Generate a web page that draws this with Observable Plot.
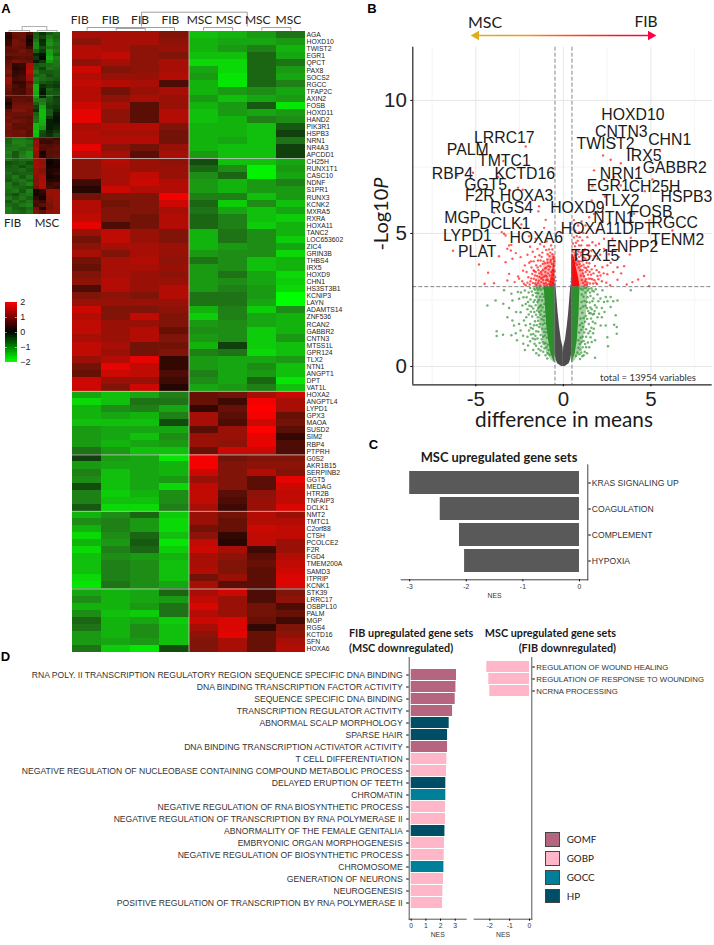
<!DOCTYPE html>
<html><head><meta charset="utf-8">
<script src="https://cdn.jsdelivr.net/npm/d3@7"></script>
<script src="https://cdn.jsdelivr.net/npm/@observablehq/plot@0.6"></script>
<style>
html,body{margin:0;padding:0;background:#fff}
#page{position:relative;width:714px;height:945px;overflow:hidden;font-family:"Liberation Sans",sans-serif}
.t{position:absolute;white-space:nowrap;line-height:1;color:#111}
</style></head><body>
<svg width="0" height="0" style="position:absolute"><defs>
<linearGradient id="arrowGrad" gradientUnits="userSpaceOnUse" x1="13" y1="0" x2="193" y2="0">
<stop offset="0" stop-color="#E0AC1E"/><stop offset=".3" stop-color="#EE9A15"/><stop offset=".55" stop-color="#FF4A10"/><stop offset=".8" stop-color="#FF1020"/><stop offset="1" stop-color="#FF0040"/>
</linearGradient></defs></svg>
<div id="page"></div>
<script>
// ---------- Panel A data ----------
const genes=["AGA","HOXD10","TWIST2","EGR1","QPCT","PAX8","SOCS2","RGCC","TFAP2C","AXIN2","FOSB","HOXD11","HAND2","PIK3R1","HSPB3","NRN1","NR4A3","APCDD1","CH25H","RUNX1T1","CASC10","NDNF","S1PR1","RUNX3","KCNK2","MXRA5","RXRA","HOXA11","TANC2","LOC653602","ZIC4","GRIN3B","THBS4","IRX5","HOXD9","CHN1","HS3ST3B1","KCNIP3","LAYN","ADAMTS14","ZNF536","RCAN2","GABBR2","CNTN3","MTSS1L","GPR124","TLX2","NTN1","ANGPT1","DPT","VAT1L","HOXA2","ANGPTL4","LYPD1","GPX3","MAOA","SUSD2","SIM2","RBP4","PTPRH","G0S2","AKR1B15","SERPINB2","GGT5","MEDAG","HTR2B","TNFAIP3","DCLK1","NMT2","TMTC1","C2orf88","CTSH","PCOLCE2","F2R","FGD4","TMEM200A","SAMD3","ITPRIP","KCNK1","STK39","LRRC17","OSBPL10","PALM","MGP","RGS4","KCTD16","SFN","HOXA6"];
const mainHeat=[
[1.3,1.3,1.3,1.0,-1.5,-1.4,-1.2,-0.9],[1.1,1.3,1.3,1.1,-1.4,-1.3,-1.3,-1.2],[1.4,1.3,1.1,1.2,-1.4,-1.2,-1.0,-1.4],[1.4,1.5,1.1,1.0,-1.5,-1.5,-0.8,-1.3],[1.1,1.3,1.1,1.3,-1.7,-1.7,-0.8,-0.9],[1.6,1.0,1.1,1.3,-1.3,-1.7,-0.8,-1.2],[1.4,1.2,1.2,1.4,-1.2,-1.8,-0.8,-1.3],[1.5,1.4,1.3,0.6,-1.4,-1.8,-0.8,-1.0],[1.4,0.9,1.2,1.3,-1.4,-1.2,-1.1,-1.3],[1.4,1.1,1.3,1.2,-1.2,-1.5,-1.3,-1.2],[1.6,1.3,0.7,1.2,-1.4,-1.2,-0.7,-1.8],[1.8,1.1,0.7,1.4,-1.5,-1.2,-1.3,-1.2],[1.8,1.1,0.7,1.4,-1.5,-1.4,-1.0,-1.1],[1.3,1.4,1.4,1.0,-1.4,-1.4,-1.5,-0.7],[1.4,1.3,1.3,0.9,-1.4,-1.4,-1.5,-0.5],[1.4,1.4,1.4,0.9,-1.4,-1.3,-1.5,-0.9],[1.8,1.1,0.9,1.2,-1.4,-1.5,-1.5,-0.5],[1.5,1.3,0.7,1.3,-1.2,-1.5,-1.5,-0.5],
[1.1,1.4,1.2,1.1,-0.6,-1.5,-1.5,-1.3],[1.1,1.3,1.2,1.2,-0.8,-1.1,-1.9,-1.2],[1.1,1.3,1.5,1.2,-1.1,-0.8,-1.9,-1.3],[0.5,1.3,1.6,1.4,-1.2,-1.4,-1.2,-1.0],[0.3,1.6,1.4,1.4,-1.2,-1.4,-1.2,-1.2],[0.9,1.0,1.0,1.9,-1.0,-1.0,-1.5,-1.2],[1.4,0.9,1.0,1.6,-0.8,-1.6,-1.1,-1.5],[1.4,1.0,1.0,1.3,-0.9,-1.3,-1.5,-1.3],[1.5,1.0,0.9,1.4,-0.8,-1.0,-1.5,-1.6],[1.8,0.6,0.9,1.4,-0.8,-1.0,-1.6,-1.4],[1.2,1.5,1.2,1.0,-1.4,-0.9,-1.1,-1.4],[0.9,1.5,1.2,1.0,-1.4,-0.9,-1.1,-1.6],[1.1,1.3,1.3,1.2,-1.4,-1.2,-1.1,-1.3],[1.3,1.0,1.3,1.2,-1.2,-1.1,-1.1,-1.7],[0.9,1.3,1.4,1.1,-0.9,-1.1,-1.5,-1.4],[0.8,1.3,1.3,1.2,-1.2,-1.1,-1.5,-1.4],[1.0,1.3,1.2,1.1,-1.2,-0.9,-1.3,-1.7],[1.1,1.4,1.2,1.2,-1.2,-1.1,-1.3,-1.6],[0.6,1.4,1.2,1.4,-1.2,-1.0,-1.2,-1.7],[1.0,1.1,1.0,1.4,-0.9,-0.9,-1.2,-2.0],[1.2,1.2,1.2,1.2,-0.9,-0.9,-1.3,-2.0],[1.6,1.0,1.0,1.1,-1.4,-1.0,-1.6,-1.1],[1.4,1.0,1.5,1.0,-1.6,-1.0,-1.3,-1.4],[1.5,1.2,1.2,1.0,-1.2,-1.1,-1.3,-1.4],[1.5,1.2,1.4,0.8,-1.1,-1.1,-1.6,-1.4],[1.3,1.2,1.4,1.0,-1.2,-1.1,-1.6,-1.2],[1.5,1.3,0.9,0.9,-1.4,-0.5,-1.6,-1.5],[1.5,1.2,0.9,1.0,-1.0,-0.9,-1.7,-1.5],[1.2,1.4,1.8,0.4,-1.2,-1.3,-1.3,-1.2],[0.9,1.8,1.5,0.4,-1.2,-1.3,-1.1,-1.5],[0.8,1.6,1.5,0.6,-1.0,-1.3,-1.2,-1.5],[1.6,1.2,1.2,0.5,-1.1,-1.3,-0.8,-1.8],[1.6,1.0,1.6,0.3,-1.3,-1.2,-1.0,-1.5],
[-1.3,-1.5,-1.3,-1.0,0.8,0.9,1.3,1.6],[-1.7,-1.5,-0.9,-0.9,0.8,0.5,1.9,1.3],[-1.4,-1.1,-1.0,-1.3,0.4,0.8,2.0,1.3],[-1.4,-1.3,-1.4,-1.0,1.3,0.7,1.9,0.8],[-1.5,-1.5,-1.5,-0.6,1.3,0.6,1.6,0.9],[-1.2,-1.3,-1.3,-1.3,0.7,1.2,2.0,0.7],[-1.2,-1.3,-1.5,-1.1,1.2,1.2,1.8,0.4],[-1.2,-1.4,-1.3,-1.2,1.2,1.1,1.8,0.6],[-0.9,-1.2,-1.5,-1.5,0.8,1.6,1.6,0.6],
[-0.5,-1.2,-1.3,-1.8,1.9,0.9,1.0,1.0],[-1.2,-1.3,-1.3,-1.4,1.9,1.0,1.1,1.1],[-1.0,-1.5,-1.3,-1.4,1.6,1.0,1.4,1.0],[-1.1,-1.5,-1.3,-1.2,1.2,1.0,0.7,1.8],[-0.6,-1.5,-1.3,-1.7,1.5,1.0,0.7,1.6],[-1.0,-1.6,-1.4,-1.1,1.5,0.7,1.1,1.5],[-1.0,-1.5,-1.5,-1.1,1.5,0.6,1.2,1.5],[-0.7,-1.7,-1.7,-1.0,1.3,0.5,1.2,1.7],
[-1.4,-1.1,-0.8,-1.6,1.2,0.9,1.4,1.2],[-1.1,-1.0,-1.2,-1.7,1.2,0.8,1.4,1.4],[-1.4,-1.0,-1.2,-1.7,0.9,0.8,1.6,1.5],[-1.7,-1.1,-0.8,-1.5,1.1,0.4,1.5,1.5],[-1.4,-1.2,-0.7,-1.8,1.5,0.3,1.5,1.2],[-1.7,-1.0,-0.8,-1.6,1.6,1.3,0.5,1.2],[-1.5,-1.1,-1.2,-1.4,1.3,1.1,0.7,1.4],[-1.5,-1.0,-1.1,-1.5,1.3,1.0,0.8,1.5],[-1.5,-1.0,-1.1,-1.5,1.4,1.0,0.7,1.6],[-1.7,-1.0,-1.1,-1.5,0.9,1.2,0.7,1.7],[-1.8,-0.9,-1.1,-1.3,1.3,0.7,0.7,1.7],
[-1.3,-1.4,-1.3,-0.8,1.3,1.6,0.6,1.0],[-1.1,-1.4,-1.3,-1.2,1.5,1.2,0.6,1.1],[-1.4,-1.4,-1.2,-0.9,1.7,1.2,0.9,0.6],[-1.1,-1.5,-1.6,-0.9,1.4,1.2,0.9,0.8],[-0.8,-1.4,-1.3,-1.6,1.6,1.7,0.8,0.5],[-0.9,-1.4,-1.1,-1.5,1.3,1.7,0.4,1.0],[-1.2,-1.4,-1.1,-1.5,1.1,1.8,0.8,1.1],[-1.2,-1.3,-1.2,-1.5,1.0,1.3,0.8,1.3],[-0.9,-1.6,-1.8,-0.6,1.0,1.3,0.8,1.4]];
const mainBreaks=[18,51,60,68,79];
const colNames=["FIB","FIB","FIB","FIB","MSC","MSC","MSC","MSC"];
const colNamePos=[.25,1.31,2.32,3.36,4.36,5.36,6.36,7.41];
const miniHeat=[
[.5,1.1,1.1,.7,-.9,-.5,-.9,-1.1],[.4,1.0,1.1,.4,-1.0,-.7,-1.2,-1.0],[.5,1.2,1.0,.2,-1.2,-.4,-1.4,-1.1],[.6,1.2,1.1,.3,-1.4,-.5,-1.5,-1.2],[1.0,1.1,1.0,.6,-1.4,-.8,-1.2,-1.1],[.9,1.0,1.2,1.0,-1.0,-.6,-1.6,-1.2],[1.1,1.1,1.1,1.1,-.4,-.2,-1.6,-1.0],[.8,.9,1.0,.9,-.6,-.1,-1.8,-1.3],[1.0,1.2,1.1,1.1,-.3,-.6,-1.5,-1.2],[1.1,.5,.6,1.7,-.9,-1.0,-1.1,-1.2],[1.2,.4,.5,1.8,-1.0,-.7,-1.2,-1.1],[1.3,.5,.6,1.9,-1.2,-.9,-.9,-1.0],[1.1,.6,.7,1.6,-1.0,-1.1,-.8,-1.0],[1.6,.7,.8,1.6,-1.3,-1.1,-1.0,-.9],[1.5,.5,.5,1.0,-1.2,-.9,-.8,-.7],[1.2,.8,.6,1.2,-1.8,-.5,-.7,-.6],[1.1,.7,.7,1.1,-1.8,-.3,-1.0,-.8],[1.0,.8,.7,1.1,-1.7,-.2,-.9,-.9],[.9,.9,.9,1.0,-1.6,-.3,-1.0,-.6],[.6,1.0,1.0,.9,-1.3,-1.2,-.9,-.7],[.3,1.1,1.1,1.1,-1.0,-1.3,-.8,-.7],[.5,1.2,1.2,1.2,-.7,-1.7,-.7,-.6],[1.0,1.3,1.3,1.1,-.5,-1.9,-.9,-.5],[1.1,1.1,1.1,1.1,-1.0,-1.9,-.9,-.3],[1.2,1.0,1.0,.9,-1.1,-1.9,-.6,-.2],[1.1,1.2,1.1,1.0,-1.2,-1.8,-.3,-.2],[1.3,.9,1.0,.9,-1.9,-1.7,-.3,-.3],[1.2,1.0,.9,1.0,-1.9,-1.5,-.3,-.4],[1.1,1.1,1.2,.9,-2.0,-.8,-.4,-.6],[1.2,1.1,1.1,.9,-1.9,-.7,-.5,-.8],
[-1.0,-1.2,-1.2,-1.0,1.2,.7,.8,.6],[-1.0,-1.3,-1.3,-1.2,1.5,.6,.6,.8],[-1.1,-1.2,-1.3,-1.1,1.5,.9,.8,.9],[-1.2,-1.2,-1.1,-1.2,1.7,.8,.9,1.0],[-1.3,-.9,-1.2,-1.5,1.5,.2,.9,.9],[-1.2,-.9,-1.3,-1.5,1.4,.3,.9,1.0],[-1.2,-1.0,-1.1,-1.1,1.6,1.5,.2,.3],[-.8,-.9,-1.0,-.8,1.7,1.4,.1,.3],[-.9,-1.0,-.8,-1.0,1.7,1.5,.2,.2],[-1.0,-1.0,-1.1,-.9,1.5,1.3,.3,.4],[-1.1,-.9,-1.0,-1.0,1.6,1.4,.3,.5],[-1.0,-1.2,-.9,-1.2,1.4,1.7,.2,.3],[-.9,-1.1,-1.2,-1.0,1.3,1.7,.4,.4],[-1.2,-.9,-1.1,-1.3,1.4,1.8,.6,.7],[-1.2,-1.1,-1.0,-.9,1.2,1.7,.7,.6],[-1.1,-1.2,-.9,-1.3,.3,.5,1.5,1.5],[-1.0,-.8,-1.1,-1.2,.2,.4,1.5,1.6],[-1.2,-1.0,-1.2,-1.0,.5,.2,1.4,1.6],[-.9,-1.2,-1.0,-1.2,.8,.6,1.3,1.5],[-1.1,-1.0,-1.2,-1.3,.7,.9,1.2,1.5],[-1.3,-1.0,-.9,-1.1,1.2,.4,1.2,1.4],[-1.2,-1.1,-1.0,-1.2,1.3,1.0,1.4,1.5]];
const miniBreaks=[18,30,36];
// dendrogram merges: [x1, x2, height, height the left/right legs fall to]
const mainDendro=[[.5,3.5,4,1],[1.5,2.5,3,1],[4.5,5.5,4,1],[6.5,7.5,4,1],[2.37,6.0,19.3,5]];
const miniDendro=[[.5,3.5,2,.5],[4.6,7.5,2,.5],[2.4,6.0,6,2]];
const legendLevels=d3.range(-2,2,.1);
// ---------- Panel B data ----------
const redPts=[[-2.15,8.27],[-3.43,7.72],[-3.73,7.12],[-6.06,7.18],[-5.16,7.28],[-2.59,6.72],[-3.05,6.62],[-2.32,6.64],[-4.06,6.24],[-1.39,6.02],[-1.43,5.83],[-3.96,5.78],[-5.52,5.4],[-1.01,5.51],[-1.1,5.21],[-2.4,5.34],[-2.44,5.2],[-3.39,4.99],[-3.52,5.05],[-3.3,4.92],[-1.96,4.89],[-1.58,4.8],[-4.63,4.55],[-6.3,4.35],[-4.82,3.83],[-4.3,3.52],[-4.5,3.11],[-3.96,3.13],[-3.68,4.14],[-3.1,4.55],[-3.0,4.36],[-3.2,4.42],[-2.97,4.57],[-2.72,4.26],[-3.3,3.92],[-2.91,4.05],[-2.44,4.11],[-3.1,3.48],[-3.2,3.23],[-2.59,3.38],[-2.53,3.3],[-2.78,3.17],[-2.25,3.11],
[-1.9,4.5],[-1.75,4.31],[-1.62,4.12],[-1.48,4.42],[-1.33,4.6],[-1.2,4.28],[-1.1,4.51],[-0.95,4.7],[-0.82,4.4],[-0.7,4.55],[-0.62,4.22],[-0.58,4.05],[-2.05,4.2],[-1.95,3.9],[-1.82,3.72],[-1.7,3.95],[-1.55,3.8],[-1.42,3.62],[-1.3,3.98],[-1.18,3.85],[-1.05,3.68],[-0.92,4.02],[-0.85,3.78],[-0.74,3.92],[-2.1,3.55],[-2.0,3.35],[-1.88,3.2],[-1.78,3.48],[-1.68,3.3],[-1.6,3.12],[-1.5,3.4],[-1.4,3.22],[-1.28,3.55],[-1.2,3.34],[-1.12,3.12],[-1.02,3.42],[-0.98,3.24],[-2.3,3.6],[-2.2,3.8],[-2.35,3.2],[-2.15,3.05],[-2.05,3.15],
[-1.92,3.08],[-1.83,3.31],[-1.74,3.14],[-1.66,3.58],[-1.57,3.25],[-1.53,3.05],[-1.47,3.72],[-1.44,3.13],[-1.36,3.36],[-1.33,3.04],[-1.31,3.78],[-1.26,3.17],[-1.23,3.46],[-1.17,3.62],[-1.15,3.25],[-1.08,3.04],[-1.06,3.88],[-1.03,3.55],[-1.0,3.13],[-.97,3.72],[-.95,3.38],[-.93,3.06],[-.9,3.9],[-.88,3.5],[-.86,3.22],[-.84,3.64],[-.81,3.1],[-.8,4.15],[-.78,3.42],[-.76,3.74],[-.74,3.18],[-.72,4.0],[-.7,3.55],[-.68,3.04],[-.66,3.3],[-.65,3.85],[-.63,4.4],[-.62,3.62],[-.6,3.14],[-.58,3.45],[-.57,4.12],[-.55,3.78],[-.54,3.26],[-.52,3.58],[-.51,3.05],[-.5,3.95],[-1.13,3.95],[-1.24,4.12],[-1.37,4.18],[-1.45,3.98],[-.9,4.22],[-.75,4.28],[-1.58,3.55],[-1.7,3.62],[-1.85,3.95],[-.98,4.38],[-1.27,3.3],[-1.1,3.38],[-.92,3.28],[-1.38,3.5],[-1.62,3.42],
[5.52,8.1],[2.27,7.93],[2.7,7.77],[3.28,7.64],[1.75,7.37],[4.32,7.49],[2.93,8.31],[2.9,7.12],[1.66,6.77],[3.28,6.8],[5.09,7.03],[4.65,6.59],[2.38,6.39],[1.62,6.24],[2.04,6.18],[4.04,5.74],[3.85,5.49],[4.9,5.49],[6.23,5.11],[1.47,5.61],[1.75,5.74],[1.94,5.11],[0.93,4.86],[1.08,4.74],[1.37,4.86],[1.66,4.67],[2.04,4.61],[2.32,4.8],[2.8,4.8],[3.85,4.84],[2.9,4.55],[2.32,4.42],[1.85,4.55],[1.47,4.55],[1.18,4.36],[0.9,4.55],[3.79,4.21],[3.18,4.11],[3.47,3.77],[3.09,3.73],[2.51,3.8],[2.23,3.73],[2.04,3.54],[2.51,3.47],[3.09,3.26],[4.61,3.4],[4.27,3.27],[3.94,3.17],[3.62,3.08],[4.9,3.02],[2.67,3.05],
[0.72,4.65],[0.85,4.32],[1.02,4.18],[1.25,4.05],[1.42,4.2],[1.6,4.35],[1.78,4.15],[1.95,4.05],[2.1,4.2],[2.6,4.22],[0.95,3.95],[1.15,3.82],[1.3,3.7],[1.48,3.88],[1.62,3.65],[1.8,3.78],[1.95,3.4],[1.55,3.3],[1.7,3.12],[1.4,3.45],[1.25,3.2],[1.85,3.15],[2.2,3.2],[2.45,3.15],[2.85,3.55],[2.7,3.9],[1.12,3.5],[1.35,3.08],[3.3,3.5],
[.52,4.35],[.55,4.62],[.58,4.1],[.6,4.85],[.62,4.28],[.64,3.98],[.66,4.52],[.68,4.18],[.7,3.9],[.72,4.38],[.75,4.05],[.78,3.82],[.8,4.22],[.82,4.72],[.85,3.95],[.88,3.72],[.9,4.12],[.93,3.85],[.96,3.62],[.98,4.28],[1.0,3.42],[1.03,3.78],[1.05,3.25],[1.08,3.95],[1.1,3.62],[1.13,3.14],[1.16,4.1],[1.18,3.4],[1.2,3.72],[1.22,3.05],[1.27,3.55],[1.3,3.28],[1.33,3.9],[1.36,3.62],[1.38,3.16],[1.42,3.75],[1.45,3.3],[1.5,3.56],[1.52,3.12],[1.58,3.45],[1.65,3.28],[1.72,3.5],[1.78,3.24],[1.9,3.62],[1.92,3.1],[2.0,3.28],[2.12,3.42],[2.3,3.5],[1.02,4.55],[1.24,4.4],[1.08,4.3],[.76,4.9],[1.36,4.55],[1.55,4.15],[.9,5.05],[1.14,5.02],[.68,5.1],[1.26,5.3],[1.04,5.45],[.84,5.3],[.6,5.5]];
const greenPts=[[-3.39,2.86],[-3.87,2.48],[-4.34,2.29],[-2.97,2.73],[-3.43,2.36],[-2.91,2.48],[-2.53,2.54],[-2.34,2.29],[-3.2,1.85],[-2.91,1.73],[-2.82,1.54],[-2.44,2.04],[-2.25,1.73],[-2.53,1.6],[-3.81,1.32],[-3.81,1.14],[-3.45,1.19],[-2.97,1.17],[-2.29,.85],[-2.02,.79],[-2.44,1.35],[-1.96,1.35],[-2.7,2.05],[-2.6,2.8],[-2.2,2.85],[-2.1,2.6],[-2.15,2.35],[-2.05,2.15],[-1.98,1.95],[-2.12,1.85],[-1.9,1.6],[-1.85,1.2],[-1.75,1.05],[-1.9,.95],[-1.72,.62],[-1.55,.5],[-1.4,.42],[-1.3,.6],[-1.65,.85],[-1.6,1.15],[-1.75,1.42],[-1.62,1.7],[-1.78,1.88],[-1.66,2.05],[-1.82,2.25],[-1.7,2.42],[-1.88,2.52],[-1.75,2.68],[-1.9,2.95],[-1.62,2.88],[-1.55,2.62],[-1.58,2.3],[-1.5,2.1],[-1.46,1.85],[-1.52,1.55],[-1.42,1.3],[-1.48,1.05],[-1.36,.88],[-1.25,.75],[-1.15,.55],[-1.02,.42],[-.92,.3],[-1.35,1.6],[-1.3,1.95],[-1.35,2.25],[-1.4,2.5],[-1.45,2.75],
[-1.14,2.94],[-1.2,2.72],[-1.27,2.88],[-1.32,2.62],[-1.36,2.95],[-1.44,2.88],[-1.52,2.96],[-1.58,2.76],[-1.68,2.93],[-1.8,2.82],[-1.98,2.78],[-2.02,2.42],[-1.94,2.28],[-1.86,2.06],[-1.72,2.18],[-1.64,2.5],[-1.48,2.42],[-1.44,2.2],[-1.38,2.05],[-1.28,2.3],[-1.22,2.48],[-1.18,2.22],[-1.12,2.62],[-1.08,2.35],[-1.08,2.05],[-1.14,1.88],[-1.24,1.78],[-1.26,2.1],[-1.18,1.58],[-1.12,1.74],[-1.05,1.9],[-1.06,1.62],[-1.02,1.42],[-1.1,1.3],[-1.2,1.42],[-1.3,1.18],[-1.24,1.02],[-1.16,1.12],[-1.06,1.16],[-.98,1.28],[-.94,1.08],[-1.02,.88],[-1.12,.85],[-1.18,.92],[-.96,.72],[-.88,.82],[-.84,.62],[-.78,.44],[-.9,.5],[-1.08,.68],[-1.56,.78],[-1.42,.66],[-1.62,1.02],[-1.72,1.22],[-1.86,1.45],[-1.55,1.32],[-1.68,1.55],[-1.44,1.72],[-1.56,1.94],[-1.38,1.48],[-2.3,1.15],[-2.15,1.55],[-2.05,1.12],[-2.28,2.6],[-2.42,2.78],[-3.1,2.2],[-2.72,1.25],[-2.65,.98],[-2.2,.62],
[3.85,2.86],[3.09,2.48],[2.85,2.45],[2.42,2.61],[2.23,2.86],[2.7,2.61],[2.32,2.42],[2.52,2.45],[2.7,2.23],[2.99,1.92],[2.04,1.98],[1.75,1.98],[1.95,1.85],[2.13,1.54],[2.42,1.54],[2.9,1.57],[3.05,1.48],[3.05,1.23],[2.55,.76],[2.51,1.1],[1.81,.98],[1.81,.33],[1.85,2.9],[1.95,2.7],[2.0,2.45],[1.8,2.3],[1.72,2.55],[1.65,2.85],[1.55,2.65],[1.62,2.15],[1.5,2.4],[1.48,2.0],[1.58,1.8],[1.45,1.6],[1.6,1.45],[1.42,1.25],[1.55,1.1],[1.4,.9],[1.3,.72],[1.22,.55],[1.35,.5],[1.08,.38],[.95,.28],[1.7,1.25],[1.82,1.62],[1.35,2.2],[1.38,2.6],[1.4,2.85],[1.28,1.9],[1.3,1.4],
[1.0,2.92],[1.05,2.7],[1.1,2.88],[1.15,2.62],[1.2,2.95],[1.26,2.78],[1.31,2.96],[1.34,2.42],[1.46,2.92],[1.52,2.78],[1.6,2.94],[1.74,2.82],[1.66,2.45],[1.54,2.22],[1.42,2.08],[1.26,2.28],[1.2,2.46],[1.12,2.25],[1.04,2.42],[.98,2.18],[1.08,2.02],[1.16,1.82],[1.24,1.68],[1.36,1.78],[1.06,1.62],[.98,1.8],[.94,1.55],[1.02,1.38],[1.12,1.48],[1.2,1.28],[1.3,1.12],[1.1,1.12],[.98,1.08],[.9,1.28],[.86,.98],[.94,.84],[1.04,.92],[1.16,.96],[1.24,.84],[1.1,.72],[.98,.64],[.86,.7],[.8,.52],[.92,.46],[1.02,.52],[1.16,.42],[.72,.4],[1.48,.72],[1.62,.92],[1.52,1.32],[1.68,1.68],[1.78,2.08],[1.9,2.22],[1.68,1.95],[1.56,2.0],[1.74,1.42],[2.2,2.2],[2.12,2.55],[2.2,1.85],[2.35,2.05]];
const blueX=[-.47,-.42,-.45,.42,.46,.44];
const blueY=[3.08,3.22,3.35,3.05,3.3,3.18];
const bandY=[.15,.25,.5,1,1.5,2,2.5,3];
const greenOuterLeft=[-.5,-.58,-.72,-.85,-.95,-1.0,-1.05,-1.1];
const greenOuterRight=[.5,.55,.68,.8,.85,.9,.92,.95];
const greenHazeLeft=[-.55,-.7,-.95,-1.15,-1.3,-1.4,-1.5,-1.55];
const greenHazeRight=[.55,.7,.95,1.15,1.25,1.32,1.38,1.42];
const redBandY=[3,3.3,3.6,3.9,4.2];
const redOuterLeft=[-.8,-.72,-.62,-.55,-.5];
const redOuterRight=[.95,.88,.78,.68,.56];
const redHazeLeft=[-1.7,-1.5,-1.25,-1.0,-.7];
const redHazeRight=[1.45,1.3,1.1,.95,.75];
const vY=[0,.1,.25,.5,.72,1,1.5,2,2.5,3];
const vOuter=[.1,.33,.42,.48,.48,.48,.48,.48,.48,.48];
const vInner=[0,0,0,0,.02,.12,.22,.3,.36,.42];
const geneLabels=[["LRRC17",-3.37,8.59],["PALM",-5.46,8.12],["TMTC1",-3.37,7.71],["KCTD16",-2.21,7.24],["RBP4",-6.34,7.24],["GGT5",-4.44,6.83],["F2R",-4.77,6.41],["HOXA3",-2.10,6.41],["RGS4",-2.96,5.97],["MGP",-5.77,5.59],["DCLK1",-3.34,5.35],["LYPD1",-5.48,4.92],["HOXA6",-1.55,4.82],["PLAT",-4.92,4.32],["HOXD10",3.97,9.44],["CNTN3",3.31,8.83],["CHN1",6.07,8.52],["TWIST2",2.41,8.37],["IRX5",4.6,7.93],["GABBR2",6.36,7.45],["NRN1",3.31,7.24],["EGR1",2.56,6.8],["CH25H",5.21,6.74],["HSPB3",7.03,6.39],["TLX2",3.27,6.22],["HOXD9",.80,5.97],["FOSB",5.0,5.82],["NTN1",2.89,5.59],["RGCC",6.36,5.40],["HOXA11",1.60,5.18],["DPT",4.27,5.17],["TENM2",6.52,4.76],["ENPP2",3.94,4.51],["TBX15",1.81,4.15]];
// ---------- Panel C data ----------
const hallmark=["KRAS SIGNALING UP","COAGULATION","COMPLEMENT","HYPOXIA"];
const hallmarkNES=[-3.0,-2.46,-2.12,-2.03];
// ---------- Panel D data ----------
const fibSets=["RNA POLY. II TRANSCRIPTION REGULATORY REGION SEQUENCE SPECIFIC DNA BINDING","DNA BINDING TRANSCRIPTION FACTOR ACTIVITY","SEQUENCE SPECIFIC DNA BINDING","TRANSCRIPTION REGULATOR ACTIVITY","ABNORMAL SCALP MORPHOLOGY","SPARSE HAIR","DNA BINDING TRANSCRIPTION ACTIVATOR ACTIVITY","T CELL DIFFERENTIATION","NEGATIVE REGULATION OF NUCLEOBASE CONTAINING COMPOUND METABOLIC PROCESS","DELAYED ERUPTION OF TEETH","CHROMATIN","NEGATIVE REGULATION OF RNA BIOSYNTHETIC PROCESS","NEGATIVE REGULATION OF TRANSCRIPTION BY RNA POLYMERASE II","ABNORMALITY OF THE FEMALE GENITALIA","EMBRYONIC ORGAN MORPHOGENESIS","NEGATIVE REGULATION OF BIOSYNTHETIC PROCESS","CHROMOSOME","GENERATION OF NEURONS","NEUROGENESIS","POSITIVE REGULATION OF TRANSCRIPTION BY RNA POLYMERASE II"];
const fibNES=[3.09,3.05,3.0,2.82,2.59,2.48,2.48,2.43,2.41,2.36,2.36,2.34,2.34,2.3,2.27,2.25,2.23,2.2,2.16,2.14];
const fibCat=["GOMF","GOMF","GOMF","GOMF","HP","HP","GOMF","GOBP","GOBP","HP","GOCC","GOBP","GOBP","HP","GOBP","GOBP","GOCC","GOBP","GOBP","GOBP"];
const mscSets=["REGULATION OF WOUND HEALING","REGULATION OF RESPONSE TO WOUNDING","NCRNA PROCESSING"];
const mscNES=[-2.15,-2.05,-2.0];
const mscCat=["GOBP","GOBP","GOBP"];
const catNames=["GOMF","GOBP","GOCC","HP"];
const catColors=["#B5657F","#FFB6C8","#007F99","#004D66"];

const page=document.getElementById("page");
const heatColor={type:"linear",domain:[-2,-1,0,1,2],range:["#00ff00","#208018","#000000","#801408","#ff0000"]};
const miniColor={type:"linear",domain:[-2.6,-1.3,0,1.3,2.6],range:["#00ff00","#208018","#000000","#801408","#ff0000"]};
const sans="Liberation Sans",lato="Lato";
function place(svg,left,top){svg.style.position="absolute";svg.style.left=left+"px";svg.style.top=top+"px";svg.style.margin="0";svg.style.overflow="visible";page.appendChild(svg);return svg}
function txt(s,x,y,css,anchor){const d=document.createElement("div");d.className="t";d.innerHTML=s;d.style.left=x+"px";d.style.top=y+"px";d.style.cssText+=css||"";
 const a={c:"translate(-50%,-50%)",l:"translate(0,-50%)",r:"translate(-100%,-50%)"}[anchor||"c"];d.style.transform=a;page.appendChild(d);return d}
const cells=m=>m.flatMap((row,r)=>row.map((v,c)=>({r,c,v})));
const legs=d=>[{x1:d[0],x2:d[1],y1:d[2],y2:d[2]},{x1:d[0],x2:d[0],y1:d[2],y2:d[3]},{x1:d[1],x2:d[1],y1:d[2],y2:d[3]}];

// mini heatmap
place(Plot.plot({width:55.2,height:182,margin:0,x:{axis:null,domain:[0,8]},y:{axis:null,domain:[miniHeat.length,0]},color:miniColor,style:{background:"transparent"},
 marks:[Plot.rect(cells(miniHeat),{x1:"c",x2:d=>d.c+1,y1:"r",y2:d=>d.r+1,fill:"v",shapeRendering:"crispEdges"}),
 Plot.ruleY(miniBreaks,{stroke:"#ddd",strokeOpacity:.35,strokeWidth:.7})]}),5,31.5);
place(Plot.plot({width:55.2,height:12,margin:0,x:{axis:null,domain:[0,8]},y:{axis:null,domain:[0,12]},style:{background:"transparent"},
 marks:[Plot.link(miniDendro.flatMap(legs),{x1:"x1",x2:"x2",y1:"y1",y2:"y2",stroke:"#777",strokeWidth:.6})]}),5,20);
txt("FIB",12.7,222,`font:11.5px ${lato};color:#222`);txt("MSC",47,222,`font:11.5px ${lato};color:#222`);

// colour bar
place(Plot.plot({width:32,height:72,marginLeft:0,marginRight:20.3,marginTop:6,marginBottom:6,x:{axis:null,domain:[0,1]},y:{domain:[-2,2]},color:{type:"linear",domain:[-2,0,2],range:["#00ff00","#000000","#ff0000"]},style:{background:"transparent"},
 marks:[Plot.rect(legendLevels,{x1:0,x2:1,y1:d=>d,y2:d=>d+.1,fill:d=>d,shapeRendering:"crispEdges"}),
 Plot.ruleY([-1,0,1],{x1:0,x2:.15,stroke:"#fff",strokeOpacity:.6}),Plot.ruleY([-1,0,1],{x1:.85,x2:1,stroke:"#fff",strokeOpacity:.6}),
 Plot.axisY({anchor:"right",ticks:[-2,-1,0,1,2],tickSize:0,tickPadding:3,fontSize:9,label:null,tickFormat:d=>d<0?"\u2212"+(-d):""+d,fill:"#222",fontFamily:sans})]}),5,296);

// main heatmap
place(Plot.plot({width:300,height:621,marginLeft:0,marginTop:0,marginBottom:0,marginRight:67,x:{axis:null,domain:[0,8]},y:{axis:null,domain:[genes.length,0]},color:heatColor,style:{background:"transparent"},
 marks:[Plot.rect(cells(mainHeat),{x1:"c",x2:d=>d.c+1,y1:"r",y2:d=>d.r+1,fill:"v",shapeRendering:"crispEdges"}),
 Plot.ruleY(mainBreaks,{stroke:"#ccc",strokeWidth:.8}),Plot.ruleX([4],{stroke:"#ccc",strokeWidth:.8}),
 Plot.text(genes,{x:8,y:(d,i)=>i+.5,text:d=>d,textAnchor:"start",dx:1,fontSize:6.8,fontFamily:sans,fill:"#222"})]}),72,31);
// main dendrogram and column names
place(Plot.plot({width:233,height:31,margin:0,x:{axis:null,domain:[0,8]},y:{axis:null,domain:[0,31]},style:{background:"transparent"},
 marks:[Plot.link(mainDendro.flatMap(legs),{x1:"x1",x2:"x2",y1:"y1",y2:"y2",stroke:"#888",strokeWidth:.8}),
 Plot.text(colNames,{x:(d,i)=>colNamePos[i],y:11,text:d=>d,fontSize:12,fontFamily:lato,fill:"#222"})]}),72,0);

// volcano
const band=(ys,a,b)=>ys.map((y,i)=>({y,a:a[i],b:typeof b==="number"?b:b[i]}));
const xy={x:d=>d[0],y:d=>d[1]};
place(Plot.plot({width:354,height:390,marginLeft:52.3,marginRight:2.3,marginTop:6.7,marginBottom:45.7,
 x:{domain:[-8.6,8.5],axis:null},y:{domain:[-.69,12],axis:null},style:{background:"transparent"},
 marks:[
 Plot.ruleX([-7.5,-2.5,2.5,7.5],{stroke:"#f1f1f1",strokeWidth:.8}),Plot.ruleY([2.5,7.5],{stroke:"#f1f1f1",strokeWidth:.8}),
 Plot.ruleX([-5,0,5],{stroke:"#e6e6e6"}),Plot.ruleY([0,5,10],{stroke:"#e6e6e6"}),
 Plot.areaX(band(bandY,greenHazeLeft,-.48),{y:"y",x1:"a",x2:"b",fill:"#228B22",fillOpacity:.4}),
 Plot.areaX(band(bandY,greenHazeRight,.48),{y:"y",x1:"a",x2:"b",fill:"#228B22",fillOpacity:.4}),
 Plot.areaX(band(bandY,greenOuterLeft,-.48),{y:"y",x1:"a",x2:"b",fill:"#228B22",fillOpacity:.92}),
 Plot.areaX(band(bandY,greenOuterRight,.48),{y:"y",x1:"a",x2:"b",fill:"#228B22",fillOpacity:.92}),
 Plot.dot(greenPts,{...xy,r:1.25,fill:"#228B22",fillOpacity:.65}),
 Plot.areaX(band(redBandY,redHazeLeft,-.48),{y:"y",x1:"a",x2:"b",fill:"#ff0000",fillOpacity:.28}),
 Plot.areaX(band(redBandY,redHazeRight,.48),{y:"y",x1:"a",x2:"b",fill:"#ff0000",fillOpacity:.38}),
 Plot.areaX(band(redBandY,redOuterLeft,-.48),{y:"y",x1:"a",x2:"b",fill:"#ff0000",fillOpacity:.7}),
 Plot.areaX(band(redBandY,redOuterRight,.48),{y:"y",x1:"a",x2:"b",fill:"#ff0000",fillOpacity:.95}),
 Plot.dot(redPts,{...xy,r:1.2,fill:"#ff0000",fillOpacity:.65}),
 Plot.dot(blueX,{x:d=>d,y:(d,i)=>blueY[i],r:1,fill:"#4169e1",fillOpacity:.7}),
 Plot.areaX(band(vY,vOuter.map(d=>-d),vInner.map(d=>-d)),{y:"y",x1:"a",x2:"b",fill:"#4d4d4d"}),
 Plot.areaX(band(vY,vOuter,vInner),{y:"y",x1:"a",x2:"b",fill:"#4d4d4d"}),
 Plot.ruleX([-.48,.49],{stroke:"#666",strokeDasharray:"4,2",strokeWidth:.8}),
 Plot.ruleY([3],{stroke:"#666",strokeDasharray:"4,2",strokeWidth:.8}),
 Plot.ruleX([-8.6],{stroke:"#222",strokeWidth:1.2}),Plot.ruleY([-.69],{stroke:"#222",strokeWidth:1.2}),
 Plot.axisX({ticks:[-5,0,5],tickFormat:d=>String(d),tickSize:2,tickPadding:5,fontSize:20.5,fontFamily:sans,fill:"#222",label:null}),
 Plot.axisY({ticks:[0,5,10],tickFormat:d=>String(d),tickSize:2,tickPadding:4,fontSize:20.5,fontFamily:sans,fill:"#222",label:null}),
 Plot.text(geneLabels,{x:d=>d[1],y:d=>d[2],text:d=>d[0],fontSize:15.8,fontFamily:sans,fill:"#1a1a1a"})
 ]}),360,40);
const yl=txt('-Log10<i>P</i>',380,213.5,`font:20px ${lato};color:#1a1a1a`);yl.style.transform="translate(-50%,-50%) rotate(-90deg)";
txt("difference in means",564,418,`font:20.8px ${lato};color:#1a1a1a`);
txt("total = 13954 variables",648,376.7,`font:9.5px ${lato};color:#333`);
txt("MSC",485,20.7,`font:16px ${lato};color:#1a1a1a`);txt("FIB",646,20.7,`font:15.5px ${lato};color:#1a1a1a`);
// direction arrow
place(Plot.plot({width:206,height:20,marginLeft:13,marginRight:13,marginTop:0,marginBottom:0,x:{axis:null,domain:[-1,1]},y:{axis:null,domain:[-1,1]},style:{background:"transparent"},
 marks:[Plot.link([0],{x1:-1,x2:1,y1:0,y2:0,stroke:"url(#arrowGrad)",strokeWidth:1.5}),
 Plot.dot([-1],{x:d=>d+.03,y:0,symbol:"triangle",r:3.6,rotate:-90,fill:"#E0AC1E"}),
 Plot.dot([1],{x:d=>d-.03,y:0,symbol:"triangle",r:3.6,rotate:90,fill:"#FF0040"})]}),460,24.5);

// panel C
place(Plot.plot({width:314,height:145,marginLeft:.7,marginRight:126.7,marginTop:4.3,marginBottom:25.7,
 x:{domain:[-3.15,.147],axis:null},y:{domain:hallmark,range:[7,116.6],padding:.1,axis:null},style:{background:"transparent"},
 marks:[Plot.barX(hallmark,{y:d=>d,x1:0,x2:(d,i)=>hallmarkNES[i],fill:"#595959"}),
 Plot.frame({anchor:"bottom",stroke:"#444"}),Plot.frame({anchor:"right",stroke:"#444"}),
 Plot.axisX({ticks:[-3,-2,-1,0],tickFormat:d=>String(d),tickSize:2,tickPadding:2,fontSize:6.8,fontFamily:sans,fill:"#333",label:"NES",labelAnchor:"center",labelArrow:"none",labelOffset:18}),
 Plot.axisY({anchor:"right",tickSize:2.5,tickPadding:1.5,fontSize:8.6,fontFamily:sans,fill:"#333",label:null})]}),400,460);
txt("MSC upregulated gene sets",499,457,`font:bold 12.9px ${lato};color:#1a1a1a`);

// panel D
place(Plot.plot({width:470,height:295,marginLeft:408.7,marginRight:4.3,marginTop:7,marginBottom:26.3,
 x:{domain:[-.136,3.75],axis:null},y:{domain:fibSets,range:[8.8,268.2],padding:.1,axis:null},color:{domain:catNames,range:catColors},style:{background:"transparent"},
 marks:[Plot.barX(fibSets,{y:d=>d,x1:0,x2:(d,i)=>fibNES[i],fill:(d,i)=>fibCat[i]}),
 Plot.frame({anchor:"bottom",stroke:"#555"}),Plot.frame({anchor:"left",stroke:"#555"}),
 Plot.axisX({ticks:[0,1,2,3],tickFormat:d=>String(d),tickSize:2,tickPadding:1.5,fontSize:6.8,fontFamily:sans,fill:"#333",label:"NES",labelAnchor:"center",labelArrow:"none",labelOffset:18}),
 Plot.axisY({tickSize:2.5,tickPadding:4,fontSize:8.6,fontFamily:sans,fill:"#333",label:null,textOverflow:null,lineWidth:Infinity})]}),0,650);
place(Plot.plot({width:240,height:295,marginLeft:3.7,marginRight:178.7,marginTop:7,marginBottom:26.3,
 x:{domain:[-2.786,.116],axis:null},y:{domain:mscSets,range:[8.8,47.7],padding:.1,axis:null},color:{domain:catNames,range:catColors},style:{background:"transparent"},
 marks:[Plot.barX(mscSets,{y:d=>d,x1:0,x2:(d,i)=>mscNES[i],fill:(d,i)=>mscCat[i]}),
 Plot.frame({anchor:"bottom",stroke:"#555"}),Plot.frame({anchor:"right",stroke:"#555"}),
 Plot.axisX({ticks:[-2,-1,0],tickFormat:d=>String(d),tickSize:2,tickPadding:1.5,fontSize:6.8,fontFamily:sans,fill:"#333",label:"NES",labelAnchor:"center",labelArrow:"none",labelOffset:18}),
 Plot.axisY({anchor:"right",tickSize:2.5,tickPadding:2,fontSize:7.8,fontFamily:sans,fill:"#333",label:null,textOverflow:null,lineWidth:Infinity})]}),470,650);
txt("FIB upregulated gene sets",349,632,`font:bold 10.8px ${lato};color:#1a1a1a`,"l");
txt("(MSC downregulated)",349,647,`font:bold 10.8px ${lato};color:#1a1a1a`,"l");
txt("MSC upregulated gene sets",616,632,`font:bold 10.8px ${lato};color:#1a1a1a`,"r");
txt("(FIB downregulated)",616,647,`font:bold 10.8px ${lato};color:#1a1a1a`,"r");
// legend
catNames.forEach((n,i)=>{const y=[839,858.3,877,895.7][i];const b=document.createElement("div");
 b.style.cssText=`position:absolute;left:545px;top:${y-7}px;width:12.5px;height:12.5px;background:${catColors[i]};border:1px solid #444`;page.appendChild(b);
 txt(n,566.7,y,`font:9.8px ${lato};color:#222`,"l");});
// panel letters
[["A",6,8],["B",372,7.5],["C",373.5,444],["D",5.5,655.7]].forEach(([s,x,y])=>txt(s,x,y,`font:bold 13px ${sans};color:#000`));
</script>
</body></html>
